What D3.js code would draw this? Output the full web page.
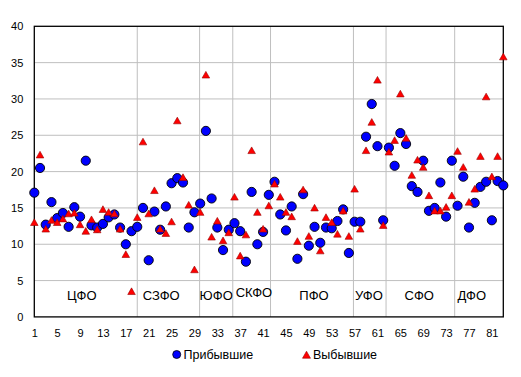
<!DOCTYPE html>
<html>
<head>
<meta charset="utf-8">
<script src="https://cdn.jsdelivr.net/npm/d3@7"></script>
<style>
  body { margin: 0; background: #fff; }
  svg { display: block; font-family: "Liberation Sans", Arial, sans-serif; }
</style>
</head>
<body>
<script>
"use strict";

// region numbers 1..83
const regions = d3.range(1, 84);

// Прибывшие
const arrived = [
  17.1, 20.5, 12.7, 15.8, 13.6, 14.3, 12.4, 15.1, 13.8, 21.5,
  12.6, 12.3, 12.8, 13.7, 14.1, 12.3, 10.0, 11.8, 12.4, 15.0,
  7.8, 14.5, 12.0, 15.2, 18.4, 19.1, 18.5, 12.3, 14.4, 15.6,
  25.6, 16.3, 12.3, 9.2, 12.0, 12.9, 11.8, 7.6, 17.2, 10.0,
  11.7, 16.8, 18.6, 14.1, 11.9, 15.2, 8.0, 16.9, 9.8, 12.4,
  10.2, 12.3, 12.2, 13.2, 14.8, 8.8, 13.1, 13.1, 24.8, 29.3,
  23.5, 13.3, 23.3, 20.8, 25.3, 23.8, 18.0, 17.2, 21.5, 14.6,
  15.0, 18.5, 13.8, 21.5, 15.3, 19.3, 12.3, 15.7, 17.9, 18.6,
  13.3, 18.7, 18.1
];

// Выбывшие
const departed = [
  13.0, 22.3, 12.1, 13.3, 13.0, 13.5, 14.2, 14.3, 12.7, 11.8,
  13.4, 12.0, 14.8, 14.4, 14.2, 12.1, 8.6, 3.5, 13.7, 24.1,
  14.2, 17.4, 12.1, 11.5, 13.1, 27.0, 19.2, 15.4, 6.5, 14.4,
  33.3, 11.0, 13.2, 10.5, 11.6, 16.5, 8.4, 11.3, 22.9, 14.4,
  12.1, 15.3, 18.3, 16.5, 14.4, 13.8, 10.4, 17.5, 11.1, 15.0,
  9.1, 13.7, 13.0, 11.4, 14.6, 11.1, 17.6, 12.1, 22.9, 26.8,
  32.6, 12.6, 22.7, 24.3, 30.7, 24.6, 19.5, 21.6, 20.6, 16.7,
  14.6, 14.6, 15.1, 16.7, 22.8, 20.6, 15.8, 17.6, 22.1, 30.3,
  19.3, 22.1, 35.8
];

const xTicks = [1, 5, 9, 13, 17, 21, 25, 29, 33, 37, 41, 45, 49, 53, 57, 61, 65, 69, 73, 77, 81];
const yTicks = [0, 5, 10, 15, 20, 25, 30, 35, 40];

// federal districts: names, label centre (region number) and dividers
const districtNames = ["ЦФО", "СЗФО", "ЮФО", "СКФО", "ПФО", "УФО", "СФО", "ДФО"];
const districtCenters = [9.3, 23.2, 32.8, 39.4, 49.9, 59.5, 68.3, 77.5];
const districtBounds = [19, 29.9, 35.7, 42.3, 56.8, 62.5, 74.5];

const seriesNames = ["Прибывшие", "Выбывшие"];

(function(){

  window.addEventListener("load", init);

  let svgContainer = "";
  const measurements = {
    width: 521,
    height: 377,
    left: 34.3,
    right: 503.3,
    top: 26.3,
    bottom: 316.9
  };

  function init() {
    svgContainer = d3.select("body").append("svg")
      .attr("width", measurements.width)
      .attr("height", measurements.height);

    let scaleX = d3.scaleLinear()
      .domain([1, 83])
      .range([measurements.left, measurements.right]);
    let scaleY = d3.scaleLinear()
      .domain([0, 40])
      .range([measurements.bottom, measurements.top]);

    drawGrid(scaleX, scaleY);
    drawAxes(scaleX, scaleY);
    plotData(scaleX, scaleY);
    drawLegend();
  }

  function drawGrid(scaleX, scaleY) {
    svgContainer.append("g")
      .selectAll("line")
      .data(yTicks.slice(1, -1))
      .enter()
      .append("line")
        .attr("x1", measurements.left)
        .attr("x2", measurements.right)
        .attr("y1", d => scaleY(d))
        .attr("y2", d => scaleY(d))
        .attr("stroke", "#bfbfbf")
        .attr("stroke-width", 1);

    svgContainer.append("g")
      .selectAll("line")
      .data(districtBounds)
      .enter()
      .append("line")
        .attr("x1", d => scaleX(d))
        .attr("x2", d => scaleX(d))
        .attr("y1", measurements.top)
        .attr("y2", measurements.bottom)
        .attr("stroke", "#bfbfbf")
        .attr("stroke-width", 1);

    svgContainer.append("g")
      .selectAll("text")
      .data(districtNames)
      .enter()
      .append("text")
        .attr("x", (d, i) => scaleX(districtCenters[i]))
        .attr("y", (d, i) => scaleY(d == "СКФО" ? 3.35 : 3.0))
        .attr("text-anchor", "middle")
        .attr("dominant-baseline", "central")
        .style("font-size", "13px")
        .attr("fill", "#000")
        .text(d => d);
  }

  function drawAxes(scaleX, scaleY) {
    let xAxis = d3.axisBottom(scaleX)
      .tickValues(xTicks)
      .tickSize(0)
      .tickPadding(12);
    let yAxis = d3.axisLeft(scaleY)
      .tickValues(yTicks)
      .tickSize(0)
      .tickPadding(11);

    let gx = svgContainer.append("g")
      .attr("transform", "translate(0," + measurements.bottom + ")")
      .call(xAxis);
    let gy = svgContainer.append("g")
      .attr("transform", "translate(" + measurements.left + ",0)")
      .call(yAxis);

    [gx, gy].forEach(g => {
      g.select(".domain").remove();
      g.selectAll("text")
        .attr("fill", "#000")
        .style("font-size", "11px")
        .style("font-family", "'Liberation Sans', Arial, sans-serif");
    });

    // plot frame
    svgContainer.append("rect")
      .attr("x", measurements.left)
      .attr("y", measurements.top)
      .attr("width", measurements.right - measurements.left)
      .attr("height", measurements.bottom - measurements.top)
      .attr("fill", "none")
      .attr("stroke", "#000")
      .attr("stroke-width", 1.3);
  }

  function trianglePath(s) {
    return "M0," + (-s) + "L" + (s * 1.05) + "," + (s * 0.85) + "L" + (-s * 1.05) + "," + (s * 0.85) + "Z";
  }

  function plotData(scaleX, scaleY) {
    svgContainer.append("g")
      .selectAll("circle")
      .data(arrived)
      .enter()
      .append("circle")
        .attr("cx", (d, i) => scaleX(regions[i]))
        .attr("cy", d => scaleY(d))
        .attr("r", 4.6)
        .attr("fill", "#0000ff")
        .attr("stroke", "#000")
        .attr("stroke-width", 0.9);

    svgContainer.append("g")
      .selectAll("path")
      .data(departed)
      .enter()
      .append("path")
        .attr("d", trianglePath(3.6))
        .attr("transform", (d, i) => "translate(" + scaleX(regions[i]) + "," + scaleY(d) + ")")
        .attr("fill", "#ff0000")
        .attr("stroke", "#990000")
        .attr("stroke-width", 0.6);
  }

  function drawLegend() {
    let legend = svgContainer.append("g");
    legend.append("circle")
      .attr("cx", 176.7)
      .attr("cy", 354.5)
      .attr("r", 4)
      .attr("fill", "#0000ff")
      .attr("stroke", "#000")
      .attr("stroke-width", 0.8);
    legend.append("text")
      .attr("x", 183.5)
      .attr("y", 354.5)
      .attr("dominant-baseline", "central")
      .style("font-size", "12.5px")
      .text(seriesNames[0]);

    legend.append("path")
      .attr("d", trianglePath(3.8))
      .attr("transform", "translate(306.5,355)")
      .attr("fill", "#ff0000")
      .attr("stroke", "#990000")
      .attr("stroke-width", 0.6);
    legend.append("text")
      .attr("x", 313)
      .attr("y", 354.5)
      .attr("dominant-baseline", "central")
      .style("font-size", "12.5px")
      .text(seriesNames[1]);
  }

})();
</script>
</body>
</html>
